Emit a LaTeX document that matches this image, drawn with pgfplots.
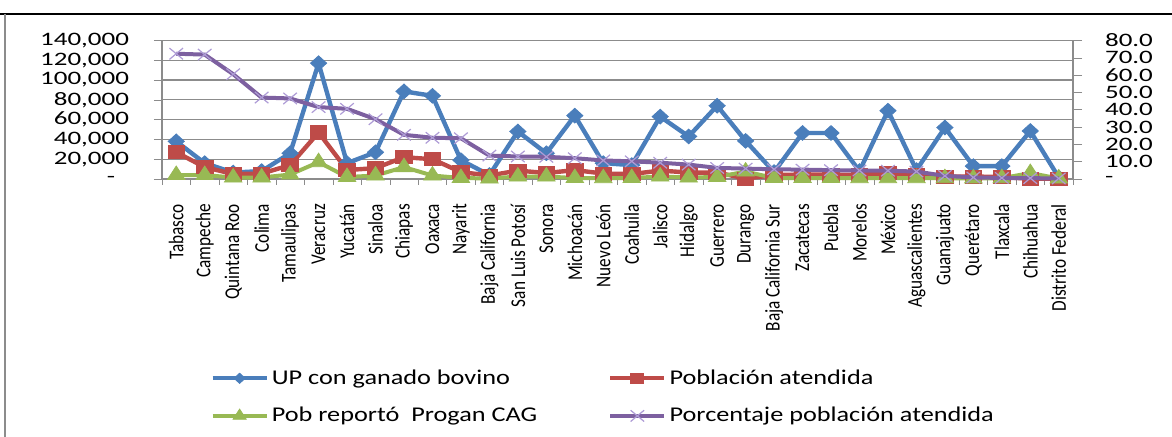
\documentclass[border=0pt]{standalone}
\usepackage{fontspec}
\setmainfont{Carlito}
\newfontfamily\tickfont[FakeStretch=1.42]{Carlito}
\newfontfamily\catfont[FakeStretch=0.82]{Carlito}
\newfontfamily\legfont[FakeStretch=1.25]{Carlito}
\usepackage{pgfplots}
\usepackage{pgfplotstable}
\pgfplotsset{compat=1.18}
\definecolor{cblue}{HTML}{4A7EBB}
\definecolor{cred}{HTML}{BE4B48}
\definecolor{cgreen}{HTML}{98B954}
\definecolor{cpurple}{HTML}{7D60A0}
\definecolor{cpurplel}{HTML}{AE9CD6}
\definecolor{cgrid}{HTML}{8C8C8C}

\pgfplotstableread{
i up pob cag pct
0 38000 27000 4000 72.3
1 16000 12000 4000 71.8
2 6500 5000 1500 60.5
3 8000 5500 1500 47.0
4 26000 14000 4500 46.5
5 117000 47000 17000 41.5
6 16000 9000 2000 40.5
7 27000 11000 3500 34.5
8 88500 22000 12000 25.5
9 84000 20000 3500 23.8
10 19000 7000 1000 23.5
11 4000 3500 500 13.5
12 48000 8500 2500 13.0
13 26000 6000 2500 12.8
14 64000 9000 1000 12.0
15 16000 5500 800 10.7
16 14000 5000 1000 10.2
17 63000 8500 2500 9.4
18 43000 6500 1500 8.3
19 74000 6500 2000 6.4
20 38500 500 7500 6.0
21 7000 4000 1000 5.6
22 46500 4500 1000 5.4
23 46500 4500 1000 5.1
24 8000 4000 800 4.9
25 69000 6000 800 4.8
26 9000 4000 800 4.3
27 52000 2500 800 1.8
28 13000 2500 600 0.9
29 13000 2000 800 0.6
30 48500 200 6000 0.5
31 1500 500 500 0.3
}\data

\pgfplotsset{
  blueS/.style={cblue, line width=2.2pt, mark=square*, mark size=2.6pt,
    mark options={solid, xscale=1.1, rotate=45, fill=cblue, draw=cblue, line width=0.4pt}},
  redS/.style={cred, line width=2.2pt, mark=square*, mark size=3.3pt,
    mark options={solid, xscale=1.25, fill=cred, draw=cred, line width=0.4pt}},
  greenS/.style={cgreen, line width=2.0pt, mark=triangle*, mark size=4.5pt,
    mark options={solid, xscale=1.12, fill=cgreen, draw=cgreen, line width=0.4pt}},
  purpleS/.style={cpurple, line width=2.0pt, mark=x, mark size=4pt,
    mark options={solid, xscale=1.2, draw=cpurplel, line width=0.6pt}},
}

\begin{document}
\begin{tikzpicture}
\useasboundingbox (0,0) rectangle (586pt,-218.5pt);
\draw[black, line width=1.2pt] (0,-7pt) -- (586pt,-7pt);
\draw[cgrid, line width=0.8pt] (2.5pt,-7pt) -- (2.5pt,-218.5pt);

\begin{axis}[
  at={(81pt,-89.5pt)}, anchor=south west,
  width=455.5pt, height=69.3pt, scale only axis,
  clip=false,
  xmin=-0.5, xmax=31.5, ymin=0, ymax=140000,
  xtick={0,...,31},
  xticklabels={Tabasco,Campeche,Quintana Roo,Colima,Tamaulipas,Veracruz,Yucatán,Sinaloa,Chiapas,Oaxaca,Nayarit,Baja California,San Luis Potosí,Sonora,Michoacán,Nuevo León,Coahuila,Jalisco,Hidalgo,Guerrero,Durango,Baja California Sur,Zacatecas,Puebla,Morelos,México,Aguascalientes,Guanajuato,Querétaro,Tlaxcala,Chihuahua,Distrito Federal},
  xticklabel style={rotate=90, anchor=east, font=\catfont\fontsize{10.5}{12}\selectfont},
  xticklabel shift=5pt,
  major x tick style={draw=none},
  minor xtick={-0.5,0.5,...,31.5},
  minor x tick style={cgrid},
  minor tick length=3pt,
  ytick={0,20000,40000,60000,80000,100000,120000,140000},
  yticklabels={{\raisebox{-1.5pt}{-}\hphantom{0}},{20,000},{40,000},{60,000},{80,000},{100,000},{120,000},{140,000}},
  yticklabel style={font=\tickfont\fontsize{9.5}{10}\selectfont, inner ysep=0pt},
  yticklabel shift=9pt,
  scaled y ticks=false,
  xtick pos=bottom, ytick pos=left,
  tick align=outside,
  major tick length=4pt,
  ytick style={cgrid},
  ymajorgrids, grid style={cgrid, line width=0.6pt},
  axis line style={cgrid, line width=0.6pt},
]
\addplot[blueS] table[x=i, y=up] {\data};
\addplot[redS] table[x=i, y=pob] {\data};
\addplot[greenS] table[x=i, y=cag] {\data};
\end{axis}

\begin{axis}[
  at={(81pt,-89.5pt)}, anchor=south west,
  width=455.5pt, height=69.3pt, scale only axis,
  clip=false,
  xmin=-0.5, xmax=31.5, ymin=0, ymax=80,
  axis x line=none,
  axis y line*=right,
  ytick={0,10,...,80},
  yticklabels={{\raisebox{-1.5pt}{-}},{10.0},{20.0},{30.0},{40.0},{50.0},{60.0},{70.0},{80.0}},
  yticklabel style={anchor=west, font=\tickfont\fontsize{9.5}{10}\selectfont, inner ysep=0pt},
  yticklabel shift=8pt,
  tick align=outside,
  major tick length=4.5pt,
  ytick style={cgrid},
  axis line style={cgrid, line width=0.6pt},
  legend columns=2,
  legend cell align=left,
  legend image code/.code={\draw[mark repeat=2, mark phase=2] plot coordinates {(0pt,0pt) (13.5pt,0pt) (27pt,0pt)};},
  legend style={at={(0.0527,-1.35)}, anchor=north west, draw=none, fill=none,
    inner sep=0pt, row sep=7pt,
    font=\legfont\fontsize{10.5}{12}\selectfont,
    nodes={inner sep=1.5pt},
    /tikz/every even column/.append style={column sep=34pt}},
]
\addlegendimage{blueS, mark size=1.8pt}
\addlegendentry{UP con ganado bovino}
\addlegendimage{redS, mark size=2.6pt}
\addlegendentry{Población atendida}
\addlegendimage{greenS, mark size=3.4pt}
\addlegendentry{Pob reportó~ Progan CAG}
\addplot[purpleS] table[x=i, y=pct] {\data};
\addlegendentry{Porcentaje población atendida}
\end{axis}
\end{tikzpicture}
\end{document}
